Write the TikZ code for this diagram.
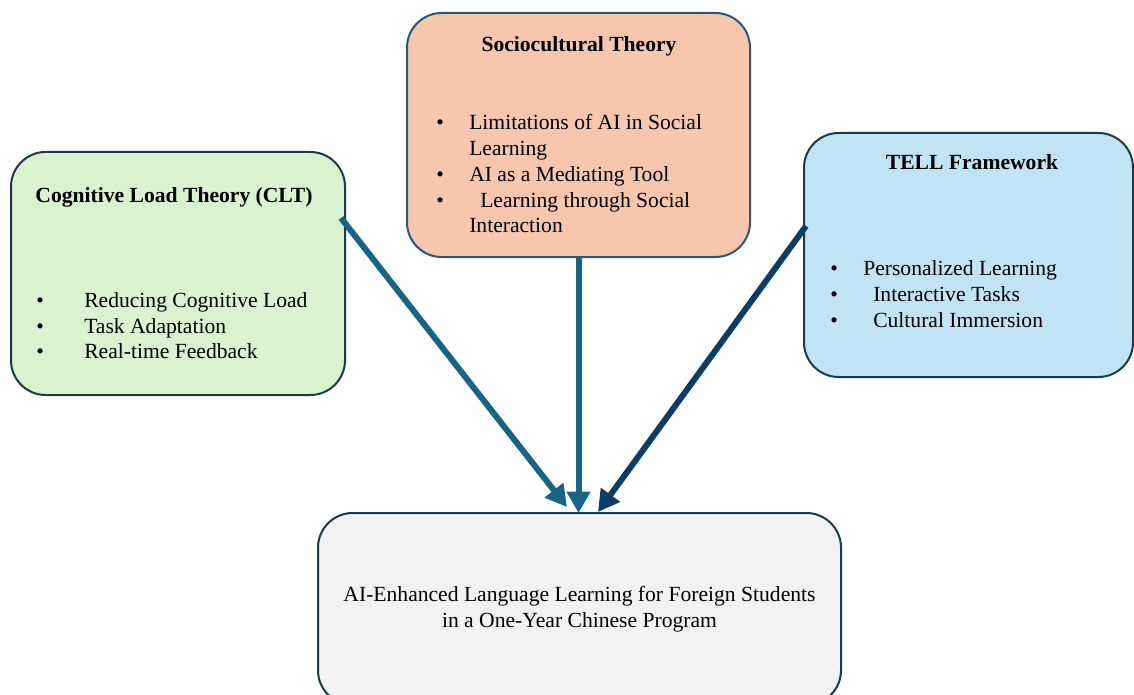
\documentclass[tikz,border=0pt]{standalone}
\usepackage{fontspec}
\setmainfont{Liberation Serif}
\usetikzlibrary{arrows.meta}
\definecolor{cltfill}{HTML}{D9F2D0}
\definecolor{socfill}{HTML}{F6C6AD}
\definecolor{tellfill}{HTML}{C1E4F5}
\definecolor{goalfill}{HTML}{F2F2F2}
\definecolor{boxline}{HTML}{1C3A48}
\definecolor{socline}{HTML}{28577C}
\definecolor{arrteal}{HTML}{176487}
\definecolor{arrnavy}{HTML}{0D3C64}
\newcommand\bul[2]{\makebox[#1][l]{\textbullet}#2}
\begin{document}
\begin{tikzpicture}[x=0.75pt,y=-0.75pt,
  box/.style={draw=boxline,line width=1.5pt,rounded corners=26pt,inner sep=0pt,outer sep=0pt},
  ttl/.style={anchor=base,inner sep=0pt,font=\fontsize{16.2}{19.5}\selectfont\bfseries},
  itm/.style={anchor=base west,inner sep=0pt,font=\fontsize{16.2}{19.5}\selectfont},
  txt/.style={anchor=base,inner sep=0pt,font=\fontsize{16.2}{19.5}\selectfont},
  arr/.style={line width=4.5pt,-{Triangle[length=16pt,width=17pt]}}]
\useasboundingbox (0,0) rectangle (1134,695);
\fill[white] (0,0) rectangle (1134,695);
% boxes
\node[box,fill=cltfill,minimum width=250.5pt,minimum height=182.25pt] (clt) at (178,273.5) {};
\node[box,draw=socline,fill=socfill,minimum width=257.25pt,minimum height=183pt] (soc) at (578.5,135) {};
\node[box,fill=tellfill,minimum width=246.75pt,minimum height=183pt] (tell) at (968.5,255) {};
\node[box,fill=goalfill,minimum width=392.25pt,minimum height=144pt] (goal) at (579.5,609) {};
% CLT texts
\node[ttl] (cltt) at (174,203) {Cognitive Load Theory (CLT)};
\node[itm] (c1) at (36,307) {\bul{36pt}{Reducing Cognitive Load}};
\node[itm] (c2) at (36,333) {\bul{36pt}{Task Adaptation}};
\node[itm] (c3) at (36,358) {\bul{36pt}{Real-time Feedback}};
% Sociocultural texts
\node[ttl] (soct) at (579,52) {Sociocultural Theory};
\node[itm] (s1) at (436,130) {\bul{24.75pt}{Limitations of AI in Social}};
\node[itm] (s1b) at (469,156) {Learning};
\node[itm] (s2) at (436,182) {\bul{24.75pt}{AI as a Mediating Tool}};
\node[itm] (s3) at (436,208) {\bul{33pt}{Learning through Social}};
\node[itm] (s3b) at (469,233) {Interaction};
% TELL texts
\node[ttl] (tellt) at (972,170) {TELL Framework};
\node[itm] (t1) at (830,275) {\bul{24.75pt}{Personalized Learning}};
\node[itm] (t2) at (830,301) {\bul{32.25pt}{Interactive Tasks}};
\node[itm] (t3) at (830,327) {\bul{32.25pt}{Cultural Immersion}};
% goal texts
\node[txt] (g1) at (579.5,601) {AI-Enhanced Language Learning for Foreign Students};
\node[txt] (g2) at (579.5,627) {in a One-Year Chinese Program};
% arrows
\coordinate (a1s) at (clt.east |- 0,218);
\coordinate (a1e) at (567,507);
\coordinate (a3s) at (tell.west |- 0,226);
\coordinate (a3e) at (598,512);
\draw[arr,arrteal] ([xshift=-3pt]a1s) -- (a1e);
\draw[arr,arrteal] (soc.south) -- (soc.south |- goal.north);
\draw[arr,arrnavy] ([xshift=1.5pt]a3s) -- (a3e);
\end{tikzpicture}
\end{document}
